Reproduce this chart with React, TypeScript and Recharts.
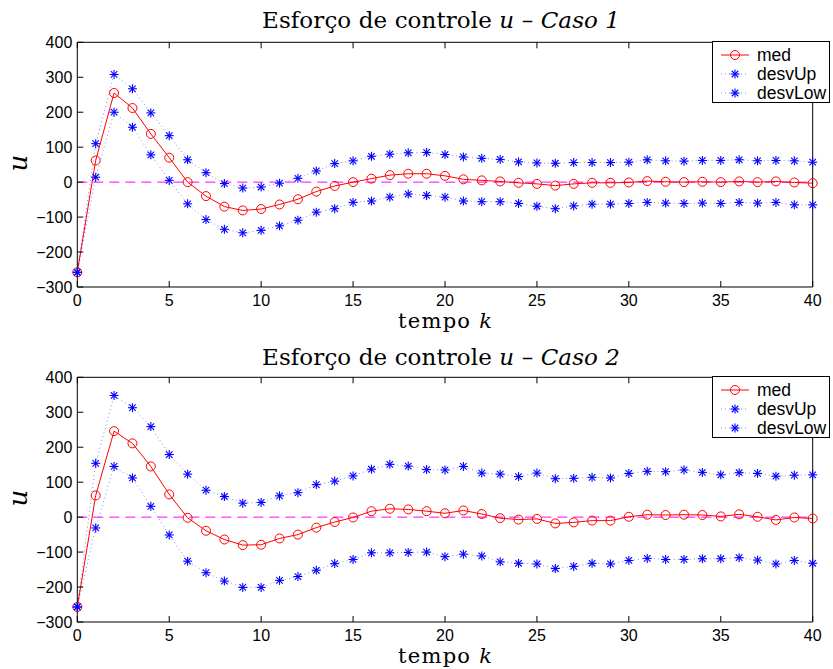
import React from 'react'
import { LineChart, Line, XAxis, YAxis, ReferenceLine, Legend } from 'recharts'

const kSteps = [
  0, 1, 2, 3, 4, 5, 6, 7, 8, 9, 10, 11, 12, 13, 14, 15, 16, 17, 18, 19, 20,
  21, 22, 23, 24, 25, 26, 27, 28, 29, 30, 31, 32, 33, 34, 35, 36, 37, 38, 39, 40,
]
const xTicks = [0, 5, 10, 15, 20, 25, 30, 35, 40]
const yTicks = [-300, -200, -100, 0, 100, 200, 300, 400]

// Caso 1
const med1 = [-258, 62, 255, 212, 138, 70, 0, -40, -70, -81, -77, -64, -49, -27, -11, 0, 10, 20, 24, 24, 18, 8, 5, 2, -2, -5, -10, -5, -2, -2, -1, 3, 1, 0, 1, 0, 2, 0, 2, -1, -3]
const up1 = [-258, 110, 308, 267, 198, 133, 64, 27, -4, -17, -14, -3, 11, 32, 53, 61, 74, 80, 84, 85, 79, 72, 68, 65, 58, 55, 54, 56, 56, 56, 57, 64, 61, 60, 62, 62, 64, 61, 62, 61, 57]
const low1 = [-258, 14, 200, 157, 78, 5, -62, -107, -135, -145, -138, -125, -109, -86, -76, -58, -54, -43, -34, -38, -43, -54, -56, -56, -61, -69, -76, -68, -63, -63, -61, -58, -60, -61, -60, -61, -58, -60, -58, -65, -65]

// Caso 2
const med2 = [-257, 62, 246, 211, 145, 65, -2, -39, -64, -80, -79, -61, -50, -30, -14, -1, 17, 24, 22, 17, 11, 19, 9, -3, -7, -5, -18, -15, -10, -10, 1, 7, 6, 7, 6, 2, 8, 1, -8, -1, -4]
const up2 = [-257, 154, 348, 313, 259, 179, 123, 77, 59, 40, 42, 61, 70, 93, 103, 118, 137, 151, 146, 136, 135, 145, 126, 123, 116, 126, 110, 111, 114, 112, 125, 131, 130, 135, 128, 121, 127, 125, 117, 120, 121]
const low2 = [-257, -31, 145, 112, 31, -51, -126, -159, -183, -201, -201, -181, -170, -152, -133, -121, -102, -102, -101, -100, -113, -106, -111, -128, -132, -134, -147, -141, -132, -134, -124, -118, -121, -121, -119, -119, -116, -123, -134, -124, -132]

const seriesNames = ['med', 'desvUp', 'desvLow']

const RED = '#ff0000'
const BLUE = '#0000ff'
const SANS = '"Liberation Sans", Arial, sans-serif'
const SERIF = '"DejaVu Serif", serif'

const W = 833
const H = 335

function buildRows(med: number[], up: number[], low: number[]) {
  return kSteps.map((k, i) => ({ k, med: med[i], desvUp: up[i], desvLow: low[i] }))
}

function Star({ cx, cy, r = 4.5 }: { cx: number; cy: number; r?: number }) {
  const d = r * 0.72
  return (
    <g stroke={BLUE} strokeWidth={1.1}>
      <line x1={cx - r} y1={cy} x2={cx + r} y2={cy} />
      <line x1={cx} y1={cy - r} x2={cx} y2={cy + r} />
      <line x1={cx - d} y1={cy - d} x2={cx + d} y2={cy + d} />
      <line x1={cx - d} y1={cy + d} x2={cx + d} y2={cy - d} />
    </g>
  )
}

function starDot(p: any) {
  if (p.cx == null || p.cy == null) return <g key={`n${p.index}`} />
  return <Star key={`s${p.index}`} cx={p.cx} cy={p.cy} />
}

function BottomTick({ x, y, payload }: any) {
  return (
    <g>
      <line x1={x} x2={x} y1={y} y2={y - 6} stroke="#000" />
      <text x={x} y={y + 18.5} textAnchor="middle" fontFamily={SANS} fontSize={16} fill="#000">
        {payload.value}
      </text>
    </g>
  )
}

function TopTick({ x, y }: any) {
  return <line x1={x} x2={x} y1={y} y2={y + 6} stroke="#000" />
}

function LeftTick({ x, y, payload }: any) {
  return (
    <g>
      <line x1={x} x2={x + 6} y1={y} y2={y} stroke="#000" />
      <text x={x - 5} y={y + 5.7} textAnchor="end" fontFamily={SANS} fontSize={16} fill="#000">
        {payload.value < 0 ? `\u2212${Math.abs(payload.value)}` : payload.value}
      </text>
    </g>
  )
}

function RightTick({ x, y }: any) {
  return <line x1={x} x2={x - 6} y1={y} y2={y} stroke="#000" />
}

function LegendBox() {
  const rows = [12.5, 31.5, 50.5]
  return (
    <div
      style={{
        position: 'relative',
        width: 118,
        height: 62,
        boxSizing: 'border-box',
        border: '1px solid #000',
        background: '#fff',
      }}
    >
      {seriesNames.map((name, i) => (
        <div key={name} style={{ position: 'absolute', left: 0, top: rows[i] - 10, height: 20, width: 118 }}>
          <svg width={30} height={20} style={{ position: 'absolute', left: 8, top: 0 }}>
            {i === 0 ? (
              <g>
                <line x1={0} x2={28} y1={10} y2={10} stroke={RED} strokeWidth={1} />
                <circle cx={14} cy={10} r={4.5} stroke={RED} fill="none" strokeWidth={1} />
              </g>
            ) : (
              <g>
                <line x1={0} x2={28} y1={10} y2={10} stroke={BLUE} strokeWidth={0.8} strokeDasharray="1 3" strokeOpacity={0.6} />
                <Star cx={14} cy={10} />
              </g>
            )}
          </svg>
          <span
            style={{
              position: 'absolute',
              left: 44,
              top: 0,
              lineHeight: '20px',
              fontFamily: SANS,
              fontSize: 17.5,
              color: '#000',
            }}
          >
            {name}
          </span>
        </div>
      ))}
    </div>
  )
}

function Panel({ caso, rows, top, titleY, xLabelY }: { caso: string; rows: any[]; top: number; titleY: number; xLabelY: number }) {
  return (
    <div style={{ position: 'absolute', left: 0, top, width: W, height: H }}>
      <LineChart width={W} height={H} data={rows} margin={{ top: 32.3, right: 10.3, bottom: 18, left: 17.3 }}>
        <XAxis
          dataKey="k"
          type="number"
          domain={[0, 40]}
          ticks={xTicks}
          height={30}
          tickSize={0}
          tickMargin={0}
          tickLine={false}
          axisLine={{ stroke: '#000', strokeWidth: 1 }}
          tick={<BottomTick />}
          interval={0}
        />
        <XAxis
          xAxisId="top"
          dataKey="k"
          type="number"
          orientation="top"
          domain={[0, 40]}
          ticks={xTicks}
          height={10}
          tickSize={0}
          tickMargin={0}
          tickLine={false}
          axisLine={{ stroke: '#000', strokeWidth: 1 }}
          tick={<TopTick />}
          interval={0}
        />
        <YAxis
          type="number"
          domain={[-300, 400]}
          ticks={yTicks}
          width={60}
          tickSize={0}
          tickMargin={0}
          tickLine={false}
          axisLine={{ stroke: '#000', strokeWidth: 1 }}
          tick={<LeftTick />}
          interval={0}
        />
        <YAxis
          yAxisId="r"
          orientation="right"
          type="number"
          domain={[-300, 400]}
          ticks={yTicks}
          width={10}
          tickSize={0}
          tickMargin={0}
          tickLine={false}
          axisLine={{ stroke: '#000', strokeWidth: 1 }}
          tick={<RightTick />}
          interval={0}
        />
        <ReferenceLine y={0} stroke="#ff00ff" strokeWidth={1} strokeDasharray="10 6" ifOverflow="visible" />
        <Line
          dataKey="med"
          stroke={RED}
          strokeWidth={1}
          dot={{ r: 4.5, stroke: RED, strokeWidth: 1, fill: 'none' }}
          isAnimationActive={false}
        />
        <Line
          dataKey="desvUp"
          stroke={BLUE}
          strokeWidth={0.8}
          strokeOpacity={0.6}
          strokeDasharray="1 3"
          dot={starDot}
          isAnimationActive={false}
        />
        <Line
          dataKey="desvLow"
          stroke={BLUE}
          strokeWidth={0.8}
          strokeOpacity={0.6}
          strokeDasharray="1 3"
          dot={starDot}
          isAnimationActive={false}
        />
        <Legend
          layout="vertical"
          align="center"
          verticalAlign="middle"
          wrapperStyle={{ left: 712, top: 41, width: 118, height: 62, right: 'auto', bottom: 'auto' }}
          content={() => <LegendBox />}
        />
      </LineChart>
      <svg width={W} height={H} style={{ position: 'absolute', left: 0, top: 0, pointerEvents: 'none' }}>
        <text x={441} y={titleY} textAnchor="middle" fontFamily={SERIF} fontSize={23} fill="#000" textLength={358} lengthAdjust="spacing">
          Esforço de controle <tspan fontStyle="italic">u</tspan> – <tspan fontStyle="italic">Caso {caso}</tspan>
        </text>
        <text x={445} y={xLabelY} textAnchor="middle" fontFamily={SERIF} fontSize={21} fill="#000" textLength={94} lengthAdjust="spacing">
          tempo <tspan fontStyle="italic">k</tspan>
        </text>
        <text
          x={0}
          y={0}
          transform={`translate(27, 163) rotate(-90)`}
          textAnchor="middle"
          fontFamily={SERIF}
          fontStyle="italic"
          fontSize={26}
          fill="#000"
        >
          u
        </text>
      </svg>
    </div>
  )
}

const rows1 = buildRows(med1, up1, low1)
const rows2 = buildRows(med2, up2, low2)

export default function App() {
  return (
    <div style={{ position: 'absolute', left: 0, top: 0, width: W, height: 669, background: '#fff' }}>
      <Panel caso="1" rows={rows1} top={0} titleY={28.3} xLabelY={327.5} />
      <Panel caso="2" rows={rows2} top={335} titleY={30} xLabelY={327.5} />
    </div>
  )
}
